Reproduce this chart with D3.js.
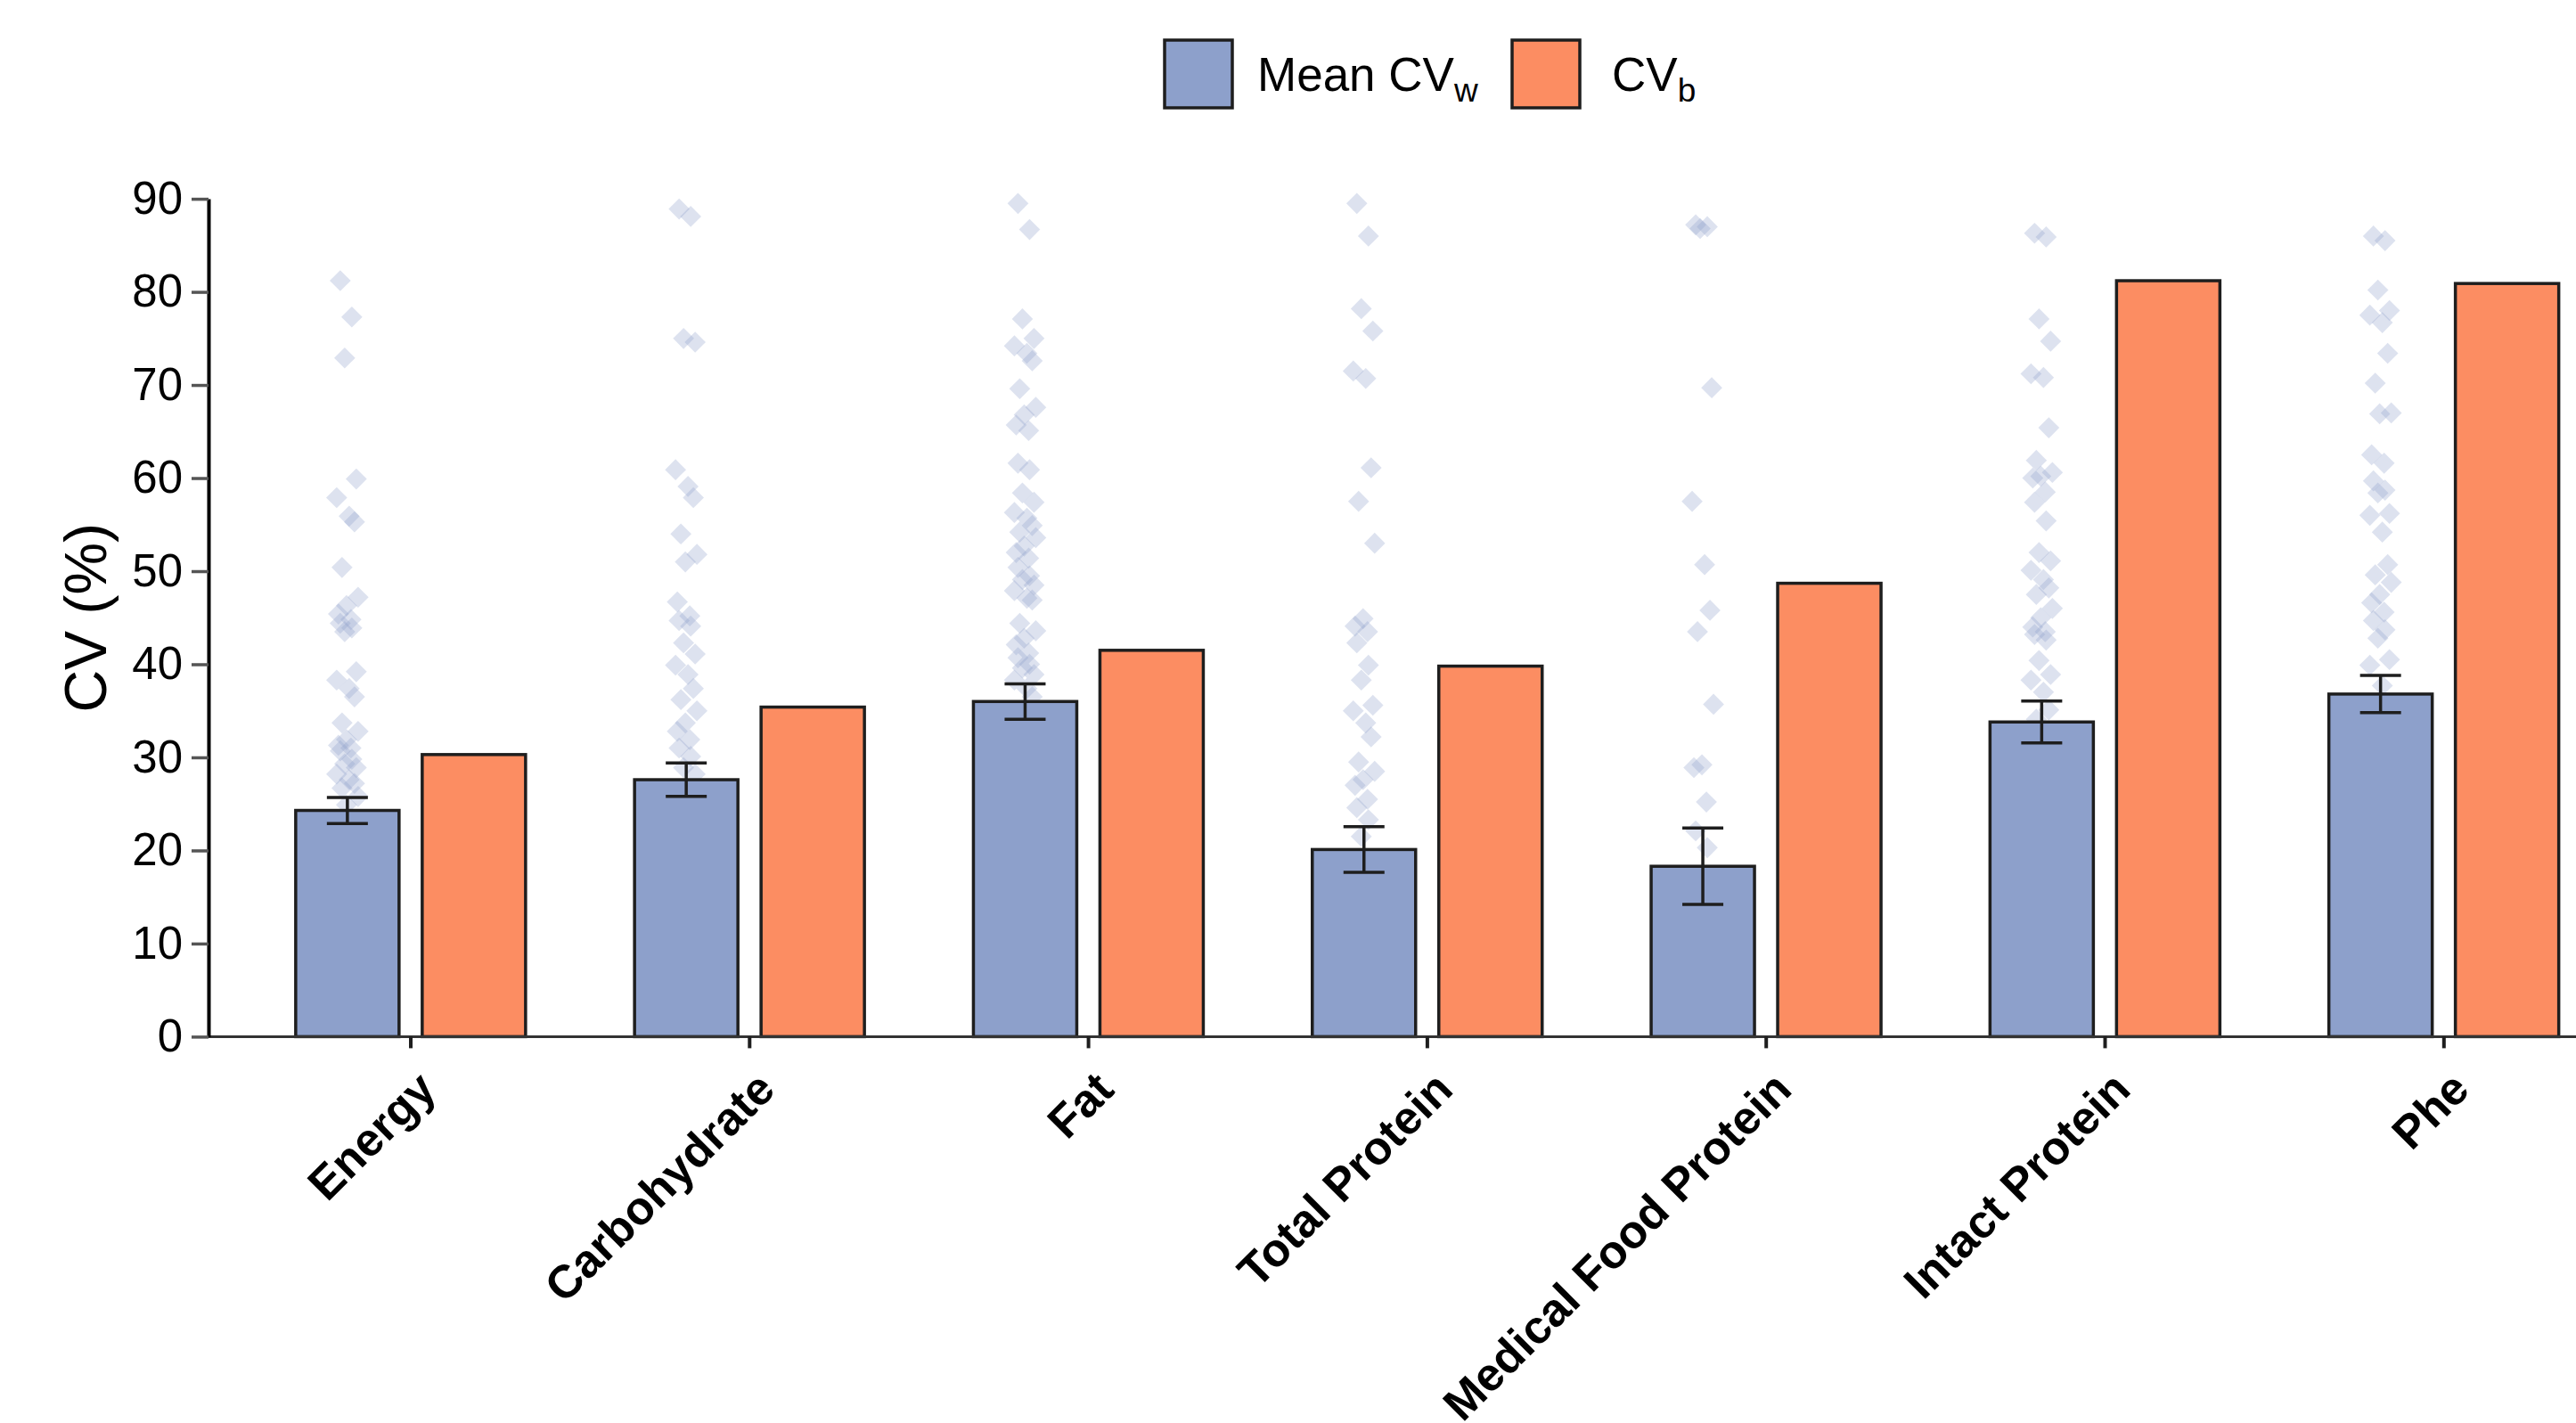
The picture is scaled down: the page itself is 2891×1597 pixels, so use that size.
<!DOCTYPE html>
<html>
<head>
<meta charset="utf-8">
<script src="https://cdn.jsdelivr.net/npm/d3@7"></script>
<style>
  html, body { margin: 0; padding: 0; background: #fff; }
  svg { display: block; font-family: "Liberation Sans", Arial, Helvetica, sans-serif; }
</style>
</head>
<body>
<div id="chart"></div>
<script>
// categories + values
const categories = ["Energy", "Carbohydrate", "Fat", "Total Protein", "Medical Food Protein", "Intact Protein", "Phe"];
const meanCVw = [24.3, 27.6, 36.0, 20.1, 18.3, 33.8, 36.8];
const seCVw   = [1.4, 1.8, 1.9, 2.45, 4.1, 2.25, 2.0];
const cvB     = [30.3, 35.4, 41.5, 39.8, 48.7, 81.2, 80.9];
const yTicks  = [0, 10, 20, 30, 40, 50, 60, 70, 80, 90];

// individual within-subject CVs (jittered dots)
const energyCV = [81.2, 77.3, 72.9, 59.9, 57.9, 55.9, 55.3, 50.4, 47.2, 46.3, 45.4, 44.8, 44.4, 43.9, 43.5,
  39.2, 38.3, 37.4, 36.5, 33.7, 32.8, 31.9, 31.3, 31.0, 30.7, 29.8, 29.3, 28.9, 28.2, 27.6, 27.2, 26.7, 25.8, 24.9];
const carbCV = [88.9, 88.1, 75.0, 74.6, 60.9, 59.1, 57.9, 54.0, 51.8, 51.0, 46.7, 45.2, 44.7, 44.1, 42.3,
  41.1, 39.9, 38.9, 37.4, 36.2, 35.0, 33.7, 32.8, 31.9, 31.0, 30.1, 28.9, 28.2];
const fatCV = [89.5, 86.7, 77.1, 75.0, 74.2, 73.4, 72.6, 69.6, 67.6, 66.8, 65.7, 65.1, 61.6, 60.9, 58.4,
  57.4, 56.3, 55.7, 54.9, 54.2, 53.6, 52.7, 52.0, 51.4, 50.4, 49.5, 49.1, 48.5, 47.9, 47.1, 46.9, 44.4,
  43.6, 42.8, 42.1, 41.2, 40.7, 40.0, 39.6, 38.9, 38.3, 37.4, 36.5];
const totalProtCV = [89.5, 86.0, 78.2, 75.8, 71.5, 70.7, 61.1, 57.5, 53.0, 44.9, 44.1, 43.5, 42.3, 39.9,
  38.3, 35.6, 35.0, 33.7, 32.2, 29.5, 28.5, 27.6, 27.0, 25.5, 24.6, 23.3, 21.5];
const medFoodCV = [87.2, 87.0, 86.8, 69.7, 57.5, 50.7, 45.8, 43.5, 35.7, 29.2, 28.9, 25.2, 22.1, 20.3];
const intactCV = [86.3, 85.9, 77.1, 74.7, 71.2, 70.8, 65.4, 61.9, 60.6, 60.2, 60.0, 58.5, 57.4, 55.4, 52.0,
  51.1, 50.1, 49.1, 48.2, 47.5, 46.0, 45.0, 44.0, 43.5, 43.2, 42.6, 40.4, 38.9, 38.3, 37.0, 35.1, 34.1];
const pheCV = [86.0, 85.5, 80.2, 78.0, 77.5, 76.7, 73.4, 70.2, 67.0, 66.9, 62.5, 61.6, 59.7, 58.7, 58.4,
  56.2, 56.0, 54.2, 50.7, 49.6, 48.8, 47.5, 46.6, 45.6, 44.7, 43.7, 42.8, 40.5, 39.9, 37.7];

const pointSets = [energyCV, carbCV, fatCV, totalProtCV, medFoodCV, intactCV, pheCV];

(function () {
  const W = 2891, H = 1597;
  const BLUE = "#8DA0CB", ORANGE = "#FC8D62", INK = "#1e1e1e";

  const svg = d3.select("#chart").append("svg")
    .attr("width", W).attr("height", H)
    .attr("viewBox", `0 0 ${W} ${H}`);

  // geometry
  const axisX = 234;
  const y = d3.scaleLinear().domain([0, 90]).range([1163.4, 223.1]);

  const step = 380.3;
  const x = d3.scaleBand()
    .domain(categories)
    .range([461 - step / 2, 461 - step / 2 + step * categories.length])
    .padding(0);

  const xs = d3.scaleBand()
    .domain(["w", "b"])
    .range([61, 319])
    .paddingInner(0.183)
    .paddingOuter(0);

  const rows = categories.map((c, i) => ({
    cat: c, w: meanCVw[i], se: seCVw[i], b: cvB[i], pts: pointSets[i]
  }));

  // jittered dots (behind bars), fixed offset cycle
  const jitter = [-8, 5, -3, 10, -12, 2, 8, -6, 12, -1, -10, 4];
  const diamond = d3.symbol().type(d3.symbolSquare).size(280);
  const dots = svg.append("g").attr("class", "dots");
  rows.forEach(r => {
    const cx = x(r.cat) + xs("w") + xs.bandwidth() / 2;
    dots.selectAll(null)
      .data(r.pts)
      .join("path")
      .attr("d", diamond)
      .attr("transform", (d, i) => `translate(${cx + jitter[i % jitter.length]},${y(d)}) rotate(45)`)
      .attr("fill", BLUE)
      .attr("fill-opacity", 0.3);
  });

  // bars
  const bars = svg.append("g").attr("class", "bars");
  const grp = bars.selectAll("g.grp")
    .data(rows)
    .join("g")
    .attr("class", "grp")
    .attr("transform", d => `translate(${x(d.cat)},0)`);

  grp.append("rect")
    .attr("x", xs("w"))
    .attr("width", xs.bandwidth())
    .attr("y", d => y(d.w))
    .attr("height", d => y(0) - y(d.w))
    .attr("fill", BLUE)
    .attr("stroke", INK)
    .attr("stroke-width", 3.5);

  grp.append("rect")
    .attr("x", xs("b"))
    .attr("width", xs.bandwidth())
    .attr("y", d => y(d.b))
    .attr("height", d => y(0) - y(d.b))
    .attr("fill", ORANGE)
    .attr("stroke", INK)
    .attr("stroke-width", 3.5);

  // error bars
  const capW = 23;
  const err = grp.append("g")
    .attr("transform", `translate(${xs("w") + xs.bandwidth() / 2},0)`)
    .attr("stroke", INK)
    .attr("stroke-width", 3.5);
  err.append("line")
    .attr("x1", 0).attr("x2", 0)
    .attr("y1", d => y(d.w - d.se)).attr("y2", d => y(d.w + d.se));
  err.append("line")
    .attr("x1", -capW).attr("x2", capW)
    .attr("y1", d => y(d.w + d.se)).attr("y2", d => y(d.w + d.se));
  err.append("line")
    .attr("x1", -capW).attr("x2", capW)
    .attr("y1", d => y(d.w - d.se)).attr("y2", d => y(d.w - d.se));

  // x axis
  svg.append("line")
    .attr("x1", axisX).attr("x2", W)
    .attr("y1", y(0)).attr("y2", y(0))
    .attr("stroke", "#333").attr("stroke-width", 3);

  const gx = svg.append("g")
    .attr("transform", `translate(0,${y(0)})`)
    .call(d3.axisBottom(x).tickSize(13).tickSizeOuter(0).tickFormat(""));
  gx.select(".domain").remove();
  gx.selectAll(".tick line").attr("stroke", INK).attr("stroke-width", 4);

  svg.append("g").attr("class", "xlabels")
    .selectAll("text")
    .data(categories)
    .join("text")
    .attr("transform", d => `translate(${x(d) + x.bandwidth() / 2 + 31},${y(0) + 62}) rotate(-45)`)
    .attr("text-anchor", "end")
    .style("font-size", "52px")
    .style("font-weight", 700)
    .attr("fill", "#000")
    .text(d => d);

  // y axis
  const gy = svg.append("g")
    .attr("transform", `translate(${axisX},0)`)
    .call(d3.axisLeft(y).tickValues(yTicks).tickSize(19).tickSizeOuter(0).tickPadding(10));
  gy.select(".domain").attr("stroke", "#000").attr("stroke-width", 4);
  gy.selectAll(".tick line").attr("stroke", "#555").attr("stroke-width", 3.5);
  gy.selectAll(".tick text")
    .style("font-size", "51px")
    .style("font-family", "'Liberation Sans', Arial, sans-serif")
    .attr("fill", "#000");

  svg.append("text")
    .attr("transform", `translate(119,${(y(0) + y(90)) / 2}) rotate(-90)`)
    .attr("text-anchor", "middle")
    .style("font-size", "66px")
    .attr("fill", "#000")
    .text("CV (%)");

  // legend
  const legend = svg.append("g").attr("class", "legend");
  const items = [
    { color: BLUE, main: "Mean CV", sub: "w", bx: 1307, tx: 1411 },
    { color: ORANGE, main: "CV", sub: "b", bx: 1697, tx: 1809 }
  ];
  items.forEach(it => {
    legend.append("rect")
      .attr("x", it.bx).attr("y", 45)
      .attr("width", 76).attr("height", 76)
      .attr("fill", it.color)
      .attr("stroke", INK).attr("stroke-width", 3.5);
    const t = legend.append("text")
      .attr("x", it.tx).attr("y", 102)
      .style("font-size", "53px")
      .attr("fill", "#000");
    t.append("tspan").text(it.main);
    t.append("tspan").attr("dy", 12).style("font-size", "37px").text(it.sub);
  });
})();
</script>
</body>
</html>
